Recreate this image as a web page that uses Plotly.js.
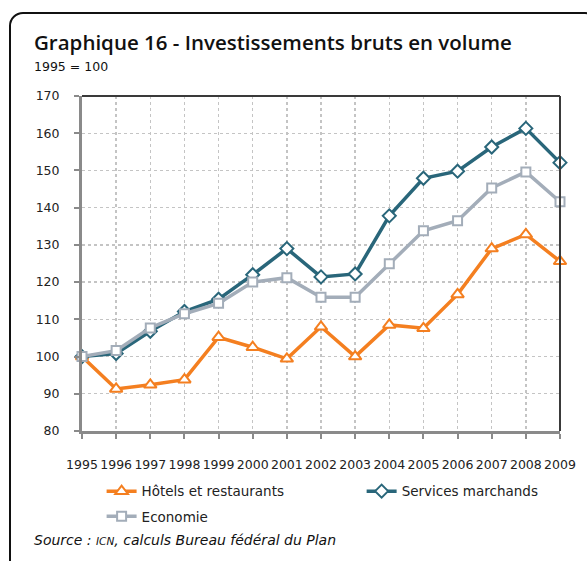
<!DOCTYPE html>
<html>
<head>
<meta charset="utf-8">
<script src="https://cdn.plot.ly/plotly-3.0.1.min.js"></script>
<style>
html,body{margin:0;padding:0;width:587px;height:561px;overflow:hidden;background:#fff;}
#frame{position:absolute;left:9px;top:12px;width:590px;height:600px;border:2px solid #111;border-radius:14px;box-sizing:border-box;pointer-events:none;}
#chart{position:absolute;left:0;top:0;width:587px;height:561px;}
</style>
</head>
<body>
<div id="chart"></div>
<div id="frame"></div>
<script>
const years = ['1995','1996','1997','1998','1999','2000','2001','2002','2003','2004','2005','2006','2007','2008','2009'];
const hotels = [100, 91.3, 92.4, 93.8, 105.2, 102.5, 99.4, 108.0, 100.0, 108.5, 107.6, 116.7, 129.0, 132.8, 125.6];
const services = [100, 100.8, 106.8, 112.1, 115.4, 122.0, 129.0, 121.4, 122.2, 137.8, 147.9, 149.8, 156.3, 161.3, 152.1];
const economie = [100, 101.6, 107.7, 111.5, 114.3, 120.0, 121.2, 115.9, 115.9, 124.9, 133.8, 136.5, 145.3, 149.6, 141.6];
const yTicks = [80, 90, 100, 110, 120, 130, 140, 150, 160, 170];

const cOrange = '#f47f20';
const cTeal = '#29667a';
const cGray = '#a3adb9';
const font = 'DejaVu Sans, sans-serif';

const traces = [
  {x: years, y: hotels, name: 'Hôtels et restaurants', type: 'scatter', mode: 'lines+markers', cliponaxis: false, legend: 'legend',
   line: {color: cOrange, width: 3.5},
   marker: {symbol: 'triangle-up', size: 11, color: '#fff', line: {color: cOrange, width: 2}}},
  {x: years, y: services, name: 'Services marchands', type: 'scatter', mode: 'lines+markers', cliponaxis: false, legend: 'legend2',
   line: {color: cTeal, width: 3.5},
   marker: {symbol: 'diamond', size: 10, color: '#fff', line: {color: cTeal, width: 2}}},
  {x: years, y: economie, name: 'Economie', type: 'scatter', mode: 'lines+markers', cliponaxis: false, legend: 'legend3',
   line: {color: cGray, width: 3.5},
   marker: {symbol: 'square', size: 9, color: '#fff', line: {color: cGray, width: 2}}}
];
const legendFont = {family: font, size: 13.5, color: '#222'};
const mkLegend = (x, y) => ({orientation: 'h', x: x, xanchor: 'left', y: y, yanchor: 'top', font: legendFont, bgcolor: 'rgba(0,0,0,0)'});
const layout = {
  width: 587, height: 561,
  margin: {l: 82, r: 27, t: 96, b: 130, autoexpand: false},
  paper_bgcolor: 'rgba(0,0,0,0)', plot_bgcolor: '#fff',
  font: {family: font, size: 12.5, color: '#222'},
  showlegend: true,
  legend: mkLegend(0.041, -0.134),
  legend2: mkLegend(0.585, -0.134),
  legend3: mkLegend(0.041, -0.209),
  xaxis: {type: 'category', range: [0, 14], showgrid: true, gridcolor: '#c4c4c4', griddash: 'dot', gridwidth: 1.3,
    showline: true, linecolor: '#8a8a8a', linewidth: 2.5, ticks: 'outside', ticklen: 5, tickcolor: '#8a8a8a', tickwidth: 2,
    ticklabelstandoff: 15, tickfont: {family: font, size: 12.5, color: '#222'}, zeroline: false, fixedrange: true},
  yaxis: {range: [80, 170], tickvals: yTicks, showgrid: true, gridcolor: '#c4c4c4', griddash: 'dot', gridwidth: 1.3,
    showline: true, linecolor: '#8a8a8a', linewidth: 3, ticks: 'outside', ticklen: 5, tickcolor: '#8a8a8a', tickwidth: 2,
    ticklabelstandoff: 12, tickfont: {family: font, size: 12.5, color: '#222'}, zeroline: false, fixedrange: true},
  shapes: [
    {type: 'line', xref: 'paper', yref: 'paper', x0: 0, x1: 1, y0: 1, y1: 1, line: {color: '#3a3a3a', width: 2}},
    {type: 'line', xref: 'paper', yref: 'paper', x0: 1, x1: 1, y0: 0, y1: 1, line: {color: '#3a3a3a', width: 2}}
  ],
  annotations: [
    {text: 'Graphique 16 - Investissements bruts en volume', xref: 'paper', yref: 'paper', x: -0.104, y: 1.113, xanchor: 'left', yanchor: 'bottom',
     showarrow: false, font: {family: 'Open Sans, sans-serif', size: 20.5, color: '#111', weight: 600}},
    {text: '1995 = 100', xref: 'paper', yref: 'paper', x: -0.104, y: 1.116, xanchor: 'left', yanchor: 'top',
     showarrow: false, font: {family: font, size: 12.5, color: '#111'}},
    {text: '<i>Source : <span style="font-size:10.5px">ICN</span>, calculs Bureau fédéral du Plan</i>', xref: 'paper', yref: 'paper', x: -0.104, y: -0.325, xanchor: 'left', yanchor: 'middle',
     showarrow: false, font: {family: font, size: 14, color: '#111'}}
  ]
};
Plotly.newPlot('chart', traces, layout, {displayModeBar: false, staticPlot: true});
</script>
</body>
</html>
